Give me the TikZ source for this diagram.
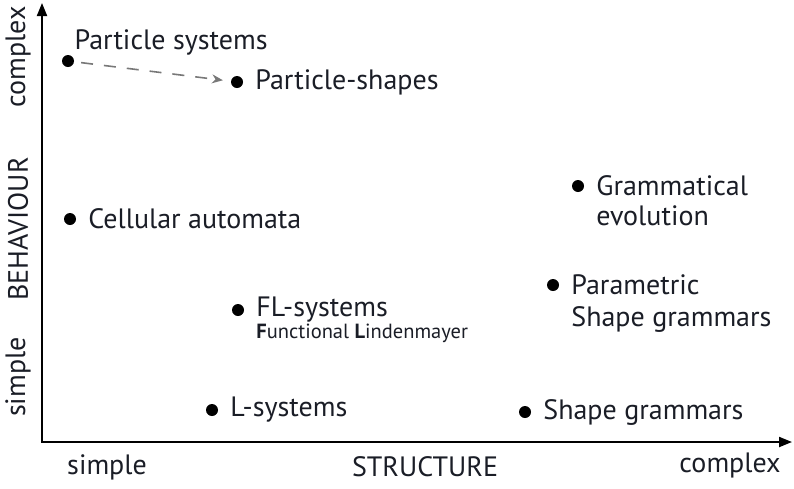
\documentclass[tikz,border=0pt]{standalone}
\usepackage{fontspec}
\setmainfont{PT Sans}
\usepackage{xcolor}
\usetikzlibrary{arrows.meta}
\usetikzlibrary{positioning}
\definecolor{inkdark}{RGB}{26,29,38}
\definecolor{arrowgray}{RGB}{120,120,120}
\tikzset{
    dot/.style={
        circle,
        fill=black,
        minimum size=12pt,
        inner sep=0pt
    },
    lbl/.style={
        font=\fontsize{28}{32}\selectfont,
        text=inkdark,
        inner sep=1pt
    }
}

\begin{document}
\begin{tikzpicture}[x=1pt,y=-1pt]
  \tikzset{
    axis/.style={
      draw=black,
      line width=2pt,
      -{Triangle[length=13pt,width=10pt]}
    },
    move/.style={
      draw=arrowgray,
      line width=1.6pt,
      dash pattern=on 12pt off 11pt,
      shorten <=7pt,
      shorten >=8pt,
      -{Stealth[length=11pt,width=9pt]}
    },
    sub/.style={
      font=\fontsize{20.5}{22}\selectfont,
      text=inkdark,
      inner sep=1pt
    }
  }
  \useasboundingbox (0,0) rectangle (794,488);

  % Axes
  \coordinate (o) at (42,442);
  \coordinate (ytop) at (42,3);
  \coordinate (xend) at (792,442);
  \draw[axis] ([yshift=1pt]o) -- (ytop);
  \draw[axis] ([xshift=-1pt]o) -- (xend);

  % Axis labels
  \node[lbl] (xs) at (107,467) {simple};
  \node[lbl] (xt) at (425,467) {STRUCTURE};
  \node[lbl] (xc) at (730,465) {complex};
  \node[lbl, rotate=90] (ys) at (18,377) {simple};
  \node[lbl, rotate=90] (yt) at (18,229) {BEHAVIOUR};
  \node[lbl, rotate=90] (yc) at (18,57) {complex};

  % Methods
  \node[dot] (ps) at (68,61) {};
  \node[dot] (psh) at (237,82) {};
  \node[dot] (ca) at (70,219) {};
  \node[dot] (ge) at (578,186) {};
  \node[dot] (fl) at (238,310) {};
  \node[dot] (psg) at (553,285) {};
  \node[dot] (ls) at (212,410) {};
  \node[dot] (sg) at (525,412) {};

  \node[lbl, above right=0pt and 1pt of ps] (psl) {Particle systems};
  \node[lbl, right=11pt of psh] (pshl) {Particle-shapes};
  \node[lbl, right=11pt of ca] (cal) {Cellular automata};
  \node[lbl, right=11pt of ge] (gel) {Grammatical};
  \node[lbl, below=30pt of gel.base west, anchor=base west] (gel2) {evolution};
  \node[lbl, right=11pt of fl] (fll) {FL-systems};
  \node[sub, below=22pt of fll.base west, anchor=base west] (fll2)
    {\textbf{F}unctional \textbf{L}indenmayer};
  \node[lbl, right=11pt of psg] (psgl) {Parametric};
  \node[lbl, below=32pt of psgl.base west, anchor=base west] (psgl2) {Shape grammars};
  \node[lbl, right=11pt of ls] (lsl) {L-systems};
  \node[lbl, right=11pt of sg] (sgl) {Shape grammars};

  % Particle systems towards particle-shapes
  \draw[move] (ps) -- (psh);
\end{tikzpicture}
\end{document}
